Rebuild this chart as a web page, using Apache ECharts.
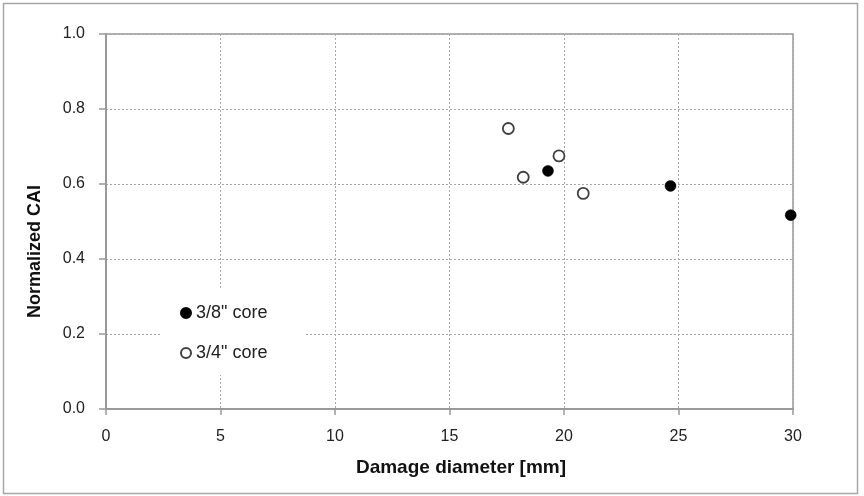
<!DOCTYPE html>
<html>
<head>
<meta charset="utf-8">
<script src="https://cdn.jsdelivr.net/npm/echarts@6/dist/echarts.min.js"></script>
<style>
html,body{margin:0;padding:0;background:#fff;}
#c{width:864px;height:496px;}
</style>
</head>
<body>
<div id="c"></div>
<script>
const seriesNames = ['3/8" core', '3/4" core'];
const core38 = [[19.3, 0.635], [24.65, 0.595], [29.9, 0.517]];
const core34 = [[17.57, 0.748], [18.22, 0.618], [19.78, 0.675], [20.84, 0.575]];
const xTicks = [0, 5, 10, 15, 20, 25, 30];
const yTicks = [0, 0.2, 0.4, 0.6, 0.8, 1.0];

const chart = echarts.init(document.getElementById('c'));
const font = 'Liberation Sans';
chart.setOption({
  animation: false,
  backgroundColor: '#fff',
  graphic: [{
    type: 'rect',
    shape: {x: 3.5, y: 3.5, width: 854, height: 490},
    style: {fill: 'none', stroke: '#a6a6a6', lineWidth: 1.5},
    z: -1
  }],
  grid: {
    left: 106, right: 71, top: 34, bottom: 87,
    show: true, borderColor: '#999', borderWidth: 1.5, backgroundColor: 'transparent'
  },
  legend: {
    data: seriesNames,
    orient: 'vertical',
    left: 160, top: 290,
    padding: [14, 37, 13, 20],
    itemGap: 22,
    itemWidth: 10, itemHeight: 10,
    backgroundColor: '#fff',
    selectedMode: false,
    textStyle: {fontSize: 18, color: '#222', fontFamily: font}
  },
  xAxis: {
    type: 'value', min: xTicks[0], max: xTicks[xTicks.length - 1], interval: 5,
    name: 'Damage diameter [mm]', nameLocation: 'middle', nameGap: 49,
    nameTextStyle: {fontSize: 19, fontWeight: 'bold', color: '#111', fontFamily: font, padding: [0, 0, 0, 23]},
    axisLine: {show: true, onZero: false, lineStyle: {color: '#999', width: 2}},
    axisTick: {show: true, length: 6, lineStyle: {color: '#999', width: 1.5}},
    axisLabel: {fontSize: 16, color: '#222', fontFamily: font, margin: 20},
    splitLine: {show: true, lineStyle: {color: '#a8a8a8', type: [2, 2], width: 1}}
  },
  yAxis: {
    type: 'value', min: yTicks[0], max: yTicks[yTicks.length - 1], interval: 0.2,
    name: 'Normalized CAI', nameLocation: 'middle', nameGap: 62,
    nameTextStyle: {fontSize: 18, fontWeight: 'bold', color: '#111', fontFamily: font, padding: [0, 60, 0, 0]},
    axisLine: {show: true, onZero: false, lineStyle: {color: '#999', width: 2}},
    axisTick: {show: true, length: 7, lineStyle: {color: '#999', width: 1.5}},
    axisLabel: {fontSize: 16, color: '#222', fontFamily: font, margin: 21,
      formatter: v => v.toFixed(1)},
    splitLine: {show: true, lineStyle: {color: '#a8a8a8', type: [2, 2], width: 1}}
  },
  series: [
    {
      name: seriesNames[0], type: 'scatter', data: core38,
      symbol: 'circle', symbolSize: 11,
      itemStyle: {color: '#000', borderColor: '#000', borderWidth: 0.5, opacity: 1}
    },
    {
      name: seriesNames[1], type: 'scatter', data: core34,
      symbol: 'circle', symbolSize: 11,
      itemStyle: {color: '#fff', borderColor: '#404040', borderWidth: 1.8, opacity: 1}
    }
  ]
});
</script>
</body>
</html>
